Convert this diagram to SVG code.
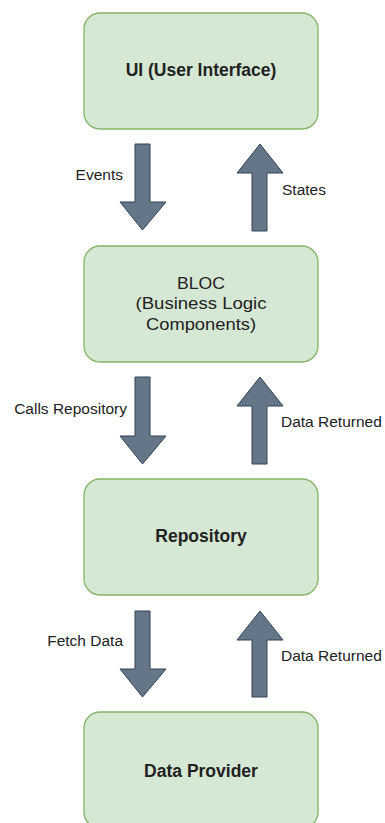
<svg xmlns="http://www.w3.org/2000/svg" width="385" height="823" viewBox="0 0 385 823">
<style>
.box{fill:#d5e8d4;stroke:#82b366;stroke-width:1.3}
.nt{font-family:"Liberation Sans",Arial,sans-serif;font-size:17.5px;font-weight:bold;fill:#222;text-anchor:middle}
.nn{font-family:"Liberation Sans",Arial,sans-serif;font-size:17px;fill:#222;text-anchor:middle}
.arr{fill:#647687;stroke:#314354;stroke-width:1}
.lb{font-family:"Liberation Sans",Arial,sans-serif;font-size:15.5px;fill:#222}
.l{text-anchor:end}
.r{text-anchor:start}
</style>
<rect width="385" height="823" fill="#ffffff"/>
<g id="ui">
<rect class="box" x="84" y="13" width="234" height="116" rx="16"/>
<text class="nt" x="201" y="75.5">UI (User Interface)</text>
</g>
<g id="bloc">
<rect class="box" x="84" y="246" width="234" height="116" rx="16"/>
<text class="nn" x="201" y="289" textLength="48" lengthAdjust="spacingAndGlyphs">BLOC</text>
<text class="nn" x="201" y="309" textLength="131" lengthAdjust="spacingAndGlyphs">(Business Logic</text>
<text class="nn" x="201" y="329.5" textLength="110" lengthAdjust="spacingAndGlyphs">Components)</text>
</g>
<g id="repository">
<rect class="box" x="84" y="479" width="234" height="116" rx="16"/>
<text class="nt" x="201" y="542">Repository</text>
</g>
<g id="dataprovider">
<rect class="box" x="84" y="712" width="234" height="116" rx="16"/>
<text class="nt" x="201" y="776.5">Data Provider</text>
</g>
<g id="connectors">
<polygon class="arr" points="135,144 150,144 150,202 166,202 142.5,230 120,202 135,202"/>
<polygon class="arr" points="252,231 267,231 267,173 283,173 260,144 237,173 252,173"/>
<text class="lb l" x="123" y="179.5">Events</text>
<text class="lb r" x="282" y="194.5">States</text>
<polygon class="arr" points="135,377 150,377 150,436 166,436 142.5,464 120,436 135,436"/>
<polygon class="arr" points="252,464 267,464 267,406 283,406 260,377 237,406 252,406"/>
<text class="lb l" x="127" y="413.5">Calls Repository</text>
<text class="lb r" x="281" y="426.5">Data Returned</text>
<polygon class="arr" points="135,611 150,611 150,669 166,669 142.5,697 120,669 135,669"/>
<polygon class="arr" points="252,697 267,697 267,640 283,640 260,611 237,640 252,640"/>
<text class="lb l" x="123" y="645.5">Fetch Data</text>
<text class="lb r" x="281" y="660.5">Data Returned</text>
</g>
</svg>
